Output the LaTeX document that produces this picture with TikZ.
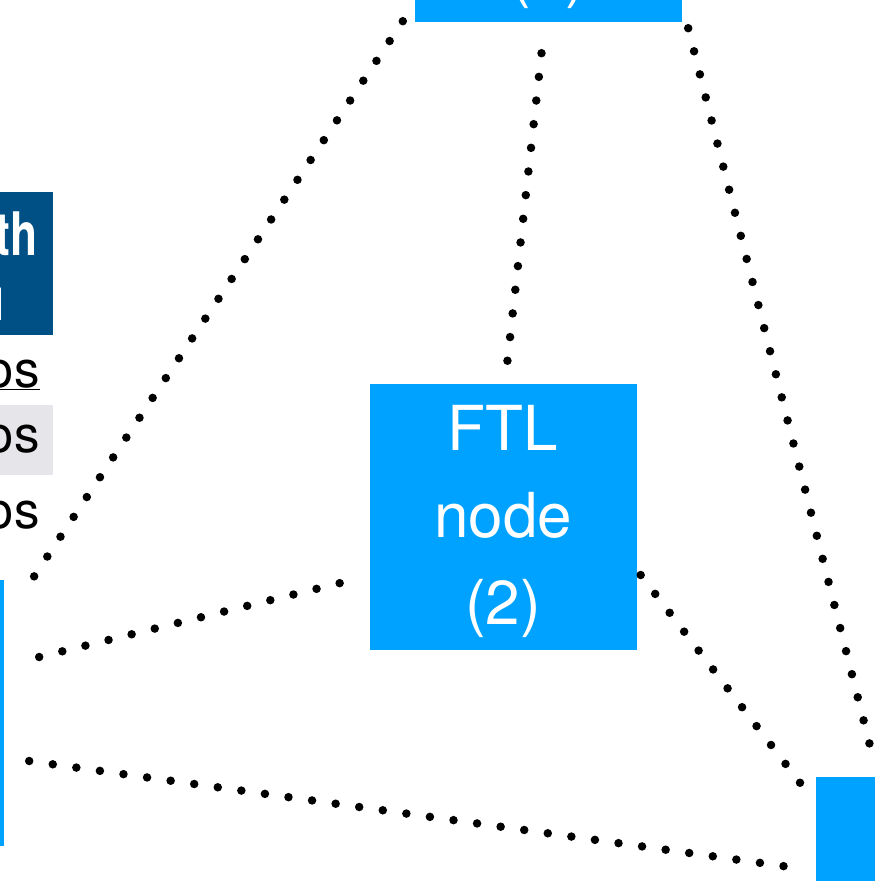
\documentclass[tikz,border=0pt]{standalone}
\usepackage{graphicx}
\usepackage{fontspec}
\setmainfont{TeX Gyre Heros}
\usetikzlibrary{positioning}

\definecolor{ftlblue}{RGB}{0,162,255}
\definecolor{headblue}{RGB}{0,80,134}
\definecolor{rowgray}{RGB}{229,229,234}

\tikzset{
    ftlbox/.style={rectangle, fill=ftlblue, minimum width=267pt, minimum height=266pt, inner sep=0pt},
    ftltext/.style={text=white, align=center, font=\fontsize{62}{87}\selectfont},
    dotline/.style={line width=8.5pt, line cap=round, dash pattern=on 0pt off 23.8pt},
    rowtext/.style={anchor=base east, font=\fontsize{51}{60}\selectfont, inner sep=0pt},
    headtext/.style={anchor=base east, text=white, font=\fontsize{60}{66}\selectfont\bfseries, inner sep=0pt}
}

\begin{document}
\begin{tikzpicture}[x=1pt, y=-1pt]
    \useasboundingbox (0,0) rectangle (875,881);
    \clip (0,0) rectangle (875,881);

    % table on the left
    \fill[headblue] (-10,192) rectangle (53,335);
    \fill[rowgray] (-10,405) rectangle (53,475);
    \node[headtext] (headone) at (38,255) {\scalebox{0.74}[1]{th}};
    \node[headtext] (headtwo) at (5,320) {\scalebox{0.74}[1]{u}};
    \node[rowtext] (rowone) at (40,387) {\underline{os}};
    \node[rowtext] (rowtwo) at (40,452) {os};
    \node[rowtext] (rowthree) at (40,528) {os};

    % FTL nodes
    \node[ftlbox] (n1) at (548.5,-111) {};
    \node[ftltext, anchor=base] (n1label) at ([shift={(0,106)}]n1.center) {(1)};
    \node[ftlbox] (n2) at (503,517) {};
    \node[ftltext] (n2label) at ([shift={(0,4)}]n2.center) {FTL\\node\\(2)};
    \node[ftlbox] (n3) at (-129.5,713) {};
    \node[ftlbox] (n4) at (949.5,910) {};

    % dotted links
    \draw[dotline] ([shift={(-12,-1)}]n1.south west) -- ([shift={(27,1)}]n3.north east);
    \draw[dotline] ([shift={(-7,31)}]n1.south) -- ([shift={(4,-19)}]n2.north);
    \draw[dotline] ([shift={(6,6)}]n1.south east) -- ([shift={(55,-28)}]n4.north west);
    \draw[dotline] ([shift={(4,58)}]n2.east) -- ([shift={(-15,7)}]n4.north west);
    \draw[dotline] ([shift={(35,-56)}]n3.east) -- ([shift={(-25,65)}]n2.west);
    \draw[dotline] ([shift={(25,48)}]n3.east) -- ([shift={(-26,-43)}]n4.west);
\end{tikzpicture}
\end{document}
